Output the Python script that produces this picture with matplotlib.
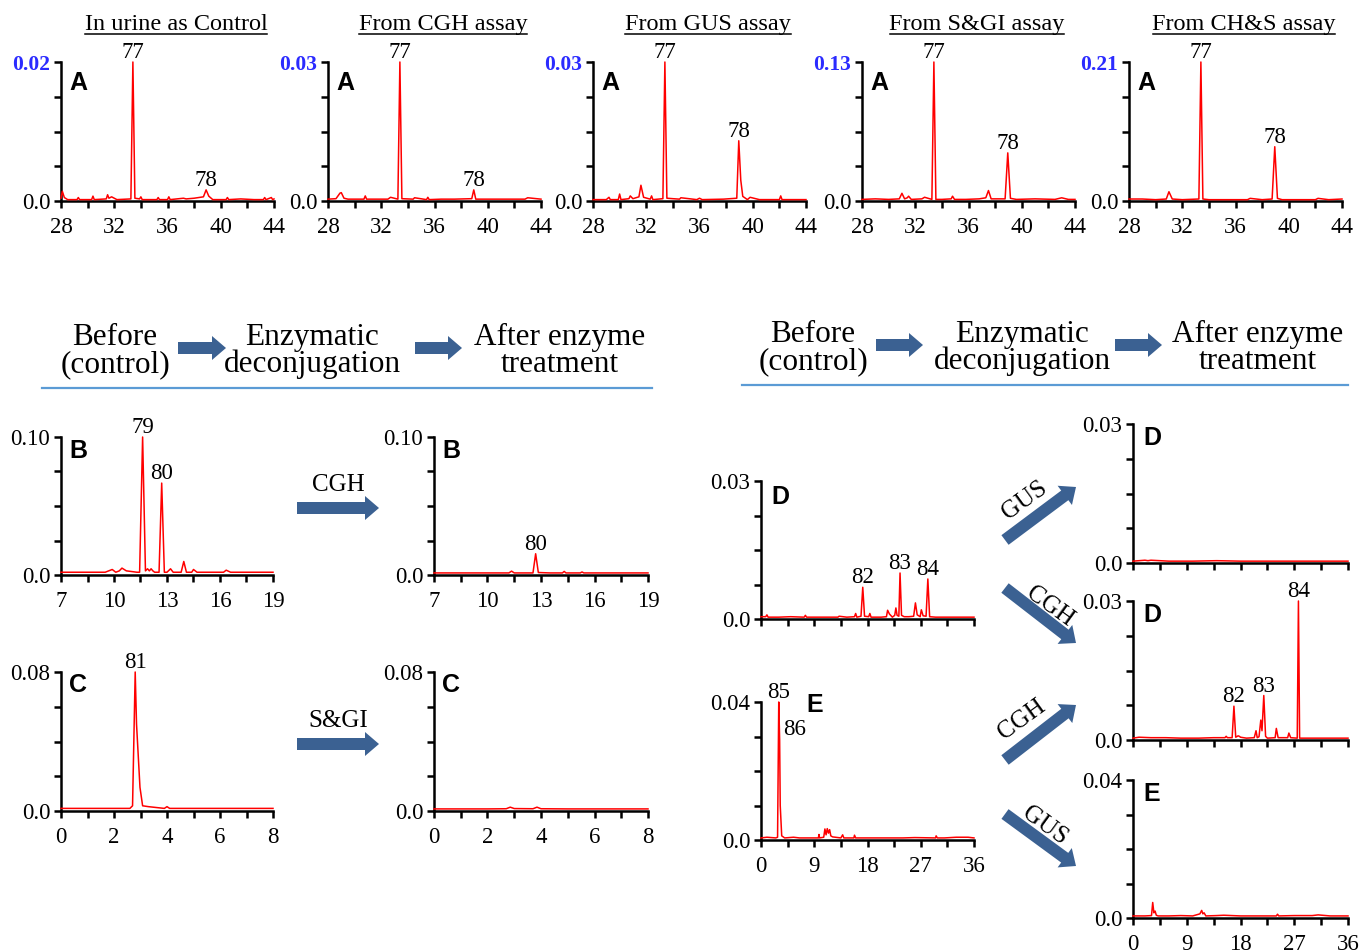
import numpy as np
import matplotlib

matplotlib.use("Agg")
import matplotlib.pyplot as plt
from matplotlib.patches import FancyArrow
from matplotlib.textpath import TextPath
from matplotlib.font_manager import FontProperties

W, H = 1360, 952
SERIF = "Liberation Serif"
SANS = "Liberation Sans"
RED = "#ff0000"
ARROW = "#3b6192"
RULE = "#5b9bd5"
BLUE = "#2b2bff"

# ---- data (retention time, absorbance) ----
a_titles = ["In urine as Control", "From CGH assay", "From GUS assay",
            "From S&GI assay", "From CH&S assay"]
a_ymax = [0.02, 0.03, 0.03, 0.13, 0.21]

a1_x = [28.0, 28.1, 28.25, 28.5, 29.2, 29.3, 29.4, 30.3, 30.4, 30.5, 31.4, 31.5, 31.6,
        31.8, 32.2, 33.25, 33.4, 33.55, 33.9, 34.0, 34.1, 35.2, 35.3, 35.4, 36.0, 36.1,
        36.2, 37.2, 37.4, 38.0, 38.7, 38.9, 39.1, 39.4, 40.4, 40.5, 40.6, 41.5, 42.5,
        43.2, 43.3, 43.4, 43.8, 43.9, 44.0]
a1_y = [0.0004, 0.0014, 0.0005, 0.0002, 0.0002, 0.0005, 0.0002, 0.0002, 0.0007, 0.0002,
        0.0003, 0.0009, 0.0004, 0.0006, 0.0002, 0.0003, 0.0200, 0.0004, 0.0003, 0.0006,
        0.0002, 0.0002, 0.0005, 0.0002, 0.0002, 0.0006, 0.0002, 0.0004, 0.0003, 0.0004,
        0.0006, 0.0016, 0.0007, 0.0002, 0.0002, 0.0005, 0.0002, 0.0003, 0.0002, 0.0002,
        0.0005, 0.0002, 0.0005, 0.0002, 0.0003]

a2_x = [28.0, 28.6, 28.9, 29.0, 29.2, 29.5, 30.7, 30.8, 30.9, 31.5, 32.5, 32.7, 33.25,
        33.4, 33.55, 34.4, 34.5, 35.4, 35.5, 35.6, 36.5, 37.5, 38.8, 38.95, 39.1, 40.0,
        41.0, 42.0, 42.8, 43.0, 44.0]
a2_y = [0.0004, 0.0005, 0.0017, 0.0018, 0.0006, 0.0004, 0.0004, 0.0011, 0.0004, 0.0004,
        0.0004, 0.0008, 0.0004, 0.0300, 0.0005, 0.0004, 0.0007, 0.0003, 0.0008, 0.0003,
        0.0004, 0.0004, 0.0005, 0.0024, 0.0004, 0.0004, 0.0004, 0.0004, 0.0004, 0.0007,
        0.0004]

a3_x = [28.0, 29.0, 29.2, 29.3, 29.9, 30.0, 30.1, 30.7, 30.8, 31.0, 31.45, 31.6, 31.8,
        32.3, 32.4, 32.5, 33.25, 33.4, 33.55, 34.0, 34.5, 34.6, 35.8, 36.0, 36.2, 37.8,
        38.8, 38.95, 39.1, 39.25, 39.6, 39.8, 40.5, 42.0, 42.1, 42.2, 43.0, 44.0]
a3_y = [0.0003, 0.0003, 0.0008, 0.0003, 0.0003, 0.0015, 0.0003, 0.0005, 0.0011, 0.0005,
        0.0009, 0.0034, 0.0008, 0.0004, 0.0011, 0.0003, 0.0005, 0.0300, 0.0006, 0.0005,
        0.0004, 0.0007, 0.0003, 0.0006, 0.0003, 0.0004, 0.0006, 0.0130, 0.0045, 0.0010,
        0.0003, 0.0008, 0.0003, 0.0003, 0.0011, 0.0003, 0.0003, 0.0003]

a4_x = [28.0, 29.0, 30.0, 30.8, 31.0, 31.2, 31.4, 31.5, 31.7, 32.5, 32.7, 33.25, 33.4,
        33.55, 34.0, 34.7, 34.8, 34.95, 35.8, 36.8, 37.3, 37.5, 37.7, 38.75, 38.95, 39.15,
        39.6, 41.0, 42.5, 43.0, 43.5, 44.0]
a4_y = [0.0015, 0.002, 0.0015, 0.002, 0.0072, 0.002, 0.003, 0.0045, 0.0015, 0.002,
        0.0035, 0.0015, 0.13, 0.0015, 0.0015, 0.002, 0.0045, 0.0015, 0.0015, 0.002, 0.003,
        0.0098, 0.002, 0.002, 0.045, 0.0025, 0.0015, 0.002, 0.0015, 0.003, 0.0015, 0.0015]

a5_x = [28.0, 29.0, 30.0, 30.8, 31.0, 31.25, 32.0, 33.25, 33.4, 33.55, 34.0, 35.0, 36.0,
        36.9, 37.1, 38.0, 38.75, 38.95, 39.15, 39.5, 40.5, 42.0, 42.2, 43.0, 44.0]
a5_y = [0.003, 0.003, 0.002, 0.003, 0.014, 0.003, 0.002, 0.003, 0.21, 0.003, 0.002,
        0.002, 0.002, 0.002, 0.004, 0.002, 0.003, 0.082, 0.004, 0.002, 0.002, 0.002,
        0.004, 0.002, 0.003]

a_peaks = [[("77", 33.4, 0.02), ("78", 38.9, 0.0016)],
           [("77", 33.4, 0.03), ("78", 38.95, 0.0024)],
           [("77", 33.4, 0.03), ("78", 38.95, 0.013)],
           [("77", 33.4, 0.13), ("78", 38.95, 0.045)],
           [("77", 33.4, 0.21), ("78", 38.95, 0.082)]]

b_before_x = [7.0, 8.5, 9.5, 9.8, 9.9, 10.1, 10.3, 10.45, 10.7, 11.3, 11.45, 11.62, 11.78,
              11.9, 12.0, 12.1, 12.2, 12.3, 12.55, 12.7, 12.85, 13.0, 13.2, 13.35, 13.8,
              13.95, 14.1, 14.4, 14.5, 14.7, 15.5, 16.2, 16.35, 16.6, 17.5, 19.0]
b_before_y = [0.002, 0.002, 0.002, 0.0035, 0.004, 0.002, 0.003, 0.005, 0.003, 0.002, 0.002,
              0.100, 0.003, 0.0045, 0.003, 0.0045, 0.003, 0.002, 0.002, 0.0666, 0.002,
              0.002, 0.0045, 0.002, 0.002, 0.0098, 0.002, 0.002, 0.004, 0.002, 0.002,
              0.002, 0.0035, 0.002, 0.002, 0.002]
b_after_x = [7.0, 10.5, 11.2, 11.35, 11.5, 12.0, 12.55, 12.7, 12.85, 13.5, 14.2, 14.3,
             14.4, 15.2, 15.3, 15.4, 17.0, 19.0]
b_after_y = [0.0015, 0.0015, 0.0015, 0.0028, 0.0015, 0.0015, 0.0015, 0.0154, 0.0018,
             0.0015, 0.0015, 0.0026, 0.0015, 0.0015, 0.0022, 0.0015, 0.0015, 0.0015]

c_before_x = [0.0, 1.5, 2.6, 2.7, 2.8, 2.85, 2.98, 3.08, 3.3, 3.9, 4.0, 4.1, 5.0, 8.0]
c_before_y = [0.0015, 0.0015, 0.0015, 0.003, 0.080, 0.05, 0.0136, 0.003, 0.0025, 0.0015,
              0.0025, 0.0015, 0.0015, 0.0015]
c_after_x = [0.0, 2.0, 2.7, 2.85, 3.0, 3.7, 3.85, 4.0, 5.0, 8.0]
c_after_y = [0.0012, 0.0012, 0.0013, 0.0022, 0.0014, 0.0013, 0.0022, 0.0013, 0.0012,
             0.0012]

d_before_x = [0, 0.8, 1.0, 1.2, 3.0, 5.0, 7.3, 7.5, 7.7, 9.0, 11.0, 13.0, 13.2, 14.5,
              15.8, 16.0, 16.2, 16.9, 17.2, 17.5, 18.2, 18.4, 18.6, 19.2, 20.3, 21.2, 21.4,
              21.7, 22.2, 22.6, 22.8, 23.0, 23.3, 23.5, 23.75, 24.2, 25.0, 25.8, 26.1,
              26.4, 26.9, 27.1, 27.4, 27.9, 28.2, 28.5, 29.5, 31.0, 33.0, 36.0]
d_before_y = [0.0005, 0.0005, 0.0009, 0.0004, 0.0004, 0.0005, 0.0004, 0.0008, 0.0004,
              0.0004, 0.0004, 0.0004, 0.0006, 0.0004, 0.0005, 0.0012, 0.0004, 0.0006,
              0.0069, 0.0006, 0.0005, 0.0012, 0.0004, 0.0004, 0.0004, 0.0005, 0.0019,
              0.0011, 0.0004, 0.0008, 0.0024, 0.0008, 0.0006, 0.0100, 0.0008, 0.0005,
              0.0005, 0.0006, 0.0035, 0.0009, 0.0005, 0.0020, 0.0007, 0.0006, 0.0087,
              0.0005, 0.0004, 0.0004, 0.0004, 0.0004]

e_before_x = [0, 1.0, 2.5, 2.8, 3.0, 3.15, 3.25, 3.5, 4.0, 5.5, 6.5, 8.0, 9.7, 9.8, 9.9,
              10.6, 10.8, 11.0, 11.2, 11.4, 11.6, 11.8, 12.1, 13.5, 13.8, 14.0, 15.7, 15.8,
              16.0, 19.0, 21.0, 24.0, 26.0, 29.5, 29.6, 29.8, 31.0, 33.0, 35.0, 36.0]
e_before_y = [0.0006, 0.0008, 0.0006, 0.0008, 0.040, 0.029, 0.010, 0.0012, 0.0006,
              0.0008, 0.0006, 0.0006, 0.0006, 0.0016, 0.0006, 0.0008, 0.0032, 0.0015,
              0.0033, 0.0020, 0.0030, 0.0012, 0.0009, 0.0006, 0.0015, 0.0006, 0.0006,
              0.0014, 0.0006, 0.0006, 0.0006, 0.0006, 0.0007, 0.0006, 0.0012, 0.0006,
              0.0006, 0.0008, 0.0008, 0.0006]

d_gus_x = [0, 1.0, 2.0, 2.5, 3.0, 6.0, 10.0, 14.0, 18.0, 22.0, 26.0, 30.0, 36.0]
d_gus_y = [0.0004, 0.0005, 0.0006, 0.0005, 0.0006, 0.0004, 0.0004, 0.0005, 0.0004,
           0.0004, 0.0004, 0.0004, 0.0004]

d_cgh_x = [0, 1.0, 3.0, 5.5, 8.0, 11.0, 13.5, 15.4, 15.6, 15.8, 16.6, 16.9, 17.2, 17.6,
           17.8, 18.0, 19.0, 20.3, 20.6, 20.8, 21.1, 21.4, 21.6, 21.9, 22.2, 22.5, 23.8,
           24.0, 24.3, 25.0, 25.9, 26.1, 26.4, 27.5, 27.7, 27.9, 28.5, 30.0, 33.0, 36.0]
d_cgh_y = [0.0004, 0.0006, 0.0005, 0.0005, 0.0004, 0.0004, 0.0005, 0.0005, 0.0008,
           0.0005, 0.0005, 0.0073, 0.0006, 0.0009, 0.0008, 0.0006, 0.0004, 0.0005, 0.0020,
           0.0005, 0.0007, 0.0043, 0.0020, 0.0096, 0.0008, 0.0004, 0.0005, 0.0025, 0.0005,
           0.0005, 0.0005, 0.0015, 0.0005, 0.0004, 0.0300, 0.0004, 0.0004, 0.0004, 0.0004,
           0.0004]

e_after_x = [0, 2.0, 3.1, 3.3, 3.5, 3.7, 3.9, 4.2, 6.0, 8.0, 10.0, 11.2, 11.5, 11.7, 11.9,
             12.2, 14.0, 15.2, 18.0, 20.0, 24.0, 24.2, 24.4, 27.0, 30.0, 31.0, 33.0, 36.0]
e_after_y = [0.0006, 0.0006, 0.0007, 0.0045, 0.0015, 0.0020, 0.0008, 0.0006, 0.0006,
             0.0007, 0.0006, 0.0012, 0.0022, 0.0012, 0.0015, 0.0006, 0.0007, 0.0008,
             0.0006, 0.0006, 0.0006, 0.0011, 0.0006, 0.0007, 0.0007, 0.0009, 0.0006,
             0.0006]

a_ticks = [28, 32, 36, 40, 44]
b_ticks = [7, 10, 13, 16, 19]
c_ticks = [0, 2, 4, 6, 8]
de_ticks = [0, 9, 18, 27, 36]

header_lines = [("Before", "(control)"), ("Enzymatic", "deconjugation"),
                ("After enzyme", "treatment")]

plt.rcParams["font.family"] = [SERIF, "DejaVu Serif"]
fig = plt.figure(figsize=(W / 100, H / 100), dpi=100)


def px_axes(left, top, width, height):
    return fig.add_axes([left / W, 1 - (top + height) / H, width / W, height / H])


def chromatogram(rect, xs, ys, ymax, ticks, minor, letter, letter_at,
                 peaks=(), xlabels=True, blue_max=False):
    ax = px_axes(*rect)
    ax.plot(xs, ys, color=RED, lw=1.1, clip_on=False, zorder=3)
    ax.set_xlim(ticks[0], ticks[-1])
    ax.set_ylim(0, ymax)
    for s in ("top", "right"):
        ax.spines[s].set_visible(False)
    for s in ("left", "bottom"):
        ax.spines[s].set_linewidth(1.8)
    ax.set_xticks(ticks)
    ax.set_xticks(np.arange(ticks[0], ticks[-1] + 1e-9, minor), minor=True)
    ax.set_yticks([ymax * k / 4 for k in range(5)])
    ax.set_yticklabels(["0.0", "", "", "", f"{ymax:.2f}"])
    ax.tick_params(which="both", direction="out", length=4.8, width=1.8,
                   labelsize=16.5, pad=3)
    ax.tick_params(axis="x", pad=6.5, labelbottom=xlabels)
    if blue_max:
        top = ax.get_yticklabels()[-1]
        top.set_color(BLUE)
        top.set_fontweight("bold")
        top.set_fontsize(15.5)
    ax.annotate(letter, xy=(0, 1), xycoords="axes fraction",
                xytext=(letter_at[0] * 0.72, -letter_at[1] * 0.72),
                textcoords="offset points", ha="left", va="top",
                fontsize=18, fontweight="bold", family=SANS)
    for p in peaks:
        lab, px, py = p[:3]
        ha, dx, dy = p[3:] if len(p) > 3 else ("center", 0, 4)
        ax.annotate(lab, xy=(px, py), xytext=(dx * 0.72, dy * 0.72),
                    textcoords="offset points", ha=ha, va="baseline",
                    fontsize=16.5, annotation_clip=False)
    return ax


# ---- top row: five "A" panels ----
a_xs = [a1_x, a2_x, a3_x, a4_x, a5_x]
a_ys = [a1_y, a2_y, a3_y, a4_y, a5_y]
a_left = [61, 328, 593, 862, 1129]
for i in range(5):
    chromatogram((a_left[i], 62, 213, 139), a_xs[i], a_ys[i], a_ymax[i], a_ticks, 2,
                 "A", (8, 9), a_peaks[i], blue_max=True)

# ---- left group: B and C ----
chromatogram((61, 437, 212, 138), b_before_x, b_before_y, 0.10, b_ticks, 1.5, "B", (8, 2),
             [("79", 11.62, 0.10), ("80", 12.7, 0.0666)])
chromatogram((434, 437, 214, 138), b_after_x, b_after_y, 0.10, b_ticks, 1.5, "B", (8, 2),
             [("80", 12.7, 0.0154)])
chromatogram((61, 672, 212, 139), c_before_x, c_before_y, 0.08, c_ticks, 1, "C", (8, 1),
             [("81", 2.8, 0.08)])
chromatogram((434, 672, 214, 139), c_after_x, c_after_y, 0.08, c_ticks, 1, "C", (8, 1))

# ---- right group: D and E ----
chromatogram((761, 481, 213, 138), d_before_x, d_before_y, 0.03, de_ticks, 4.5, "D",
             (10, 4), [("82", 17.2, 0.0069), ("83", 23.5, 0.010), ("84", 28.2, 0.0087)],
             xlabels=False)
chromatogram((761, 702, 213, 138), e_before_x, e_before_y, 0.04, de_ticks, 4.5, "E",
             (45, -9), [("85", 3.0, 0.04), ("86", 3.15, 0.029, "left", 3, 5)])
chromatogram((1133, 424, 215, 139), d_gus_x, d_gus_y, 0.03, de_ticks, 4.5, "D", (10, 2),
             xlabels=False)
chromatogram((1133, 601, 215, 139), d_cgh_x, d_cgh_y, 0.03, de_ticks, 4.5, "D", (10, 2),
             [("82", 16.9, 0.0073), ("83", 21.9, 0.0096), ("84", 27.7, 0.03)],
             xlabels=False)
chromatogram((1133, 780, 215, 138), e_after_x, e_after_y, 0.04, de_ticks, 4.5, "E",
             (10, 2))

# ---- overlay in pixel coordinates for titles, headers and arrows ----
ov = fig.add_axes([0, 0, 1, 1])
ov.set_xlim(0, W)
ov.set_ylim(H, 0)
ov.axis("off")

title_fp = FontProperties(family=SERIF, size=17.5)
for i, t in enumerate(a_titles):
    cx = a_left[i] + 115
    ov.text(cx, 30, t, ha="center", va="baseline", fontproperties=title_fp)
    wpx = TextPath((0, 0), t, prop=title_fp).get_extents().width * 100 / 72
    ov.plot([cx - wpx / 2, cx + wpx / 2], [33.5, 33.5], color="black", lw=1.1)


def block_arrow(x0, y0, x1, y1):
    ov.add_patch(FancyArrow(x0, y0, x1 - x0, y1 - y0, width=12, head_width=24,
                            head_length=14, length_includes_head=True,
                            color=ARROW, lw=0))


for centers, arrows, rule_y, rule_x in (
        ([115, 312, 560], [(178, 226), (415, 462)], 388, (42, 652)),
        ([813, 1022, 1258], [(876, 923), (1115, 1162)], 385, (742, 1348))):
    for cx, (l1, l2) in zip(centers, header_lines):
        ov.text(cx, rule_y - 43, l1, ha="center", va="baseline", fontsize=22.5)
        ov.text(cx, rule_y - 16, l2, ha="center", va="baseline", fontsize=22.5)
    for a0, a1 in arrows:
        block_arrow(a0, rule_y - 40, a1, rule_y - 40)
    ov.plot(rule_x, [rule_y, rule_y], color=RULE, lw=1.6)

# horizontal enzyme arrows
for lab, y in (("CGH", 508), ("S&GI", 744)):
    block_arrow(297, y, 379, y)
    ov.text(338, y - 17, lab, ha="center", va="baseline", fontsize=18)

# diagonal enzyme arrows
for lab, (x0, y0, x1, y1), (tx, ty), rot in (
        ("GUS", (1005, 540, 1076, 487), (1025, 500), 36),
        ("CGH", (1005, 588, 1076, 643), (1050, 607), -36),
        ("CGH", (1005, 760, 1076, 705), (1022, 720), 36),
        ("GUS", (1005, 814, 1076, 866), (1045, 826), -36)):
    block_arrow(x0, y0, x1, y1)
    ov.text(tx, ty, lab, ha="center", va="center", rotation=rot,
            rotation_mode="anchor", fontsize=18)

fig.savefig("out.png", dpi=100)
